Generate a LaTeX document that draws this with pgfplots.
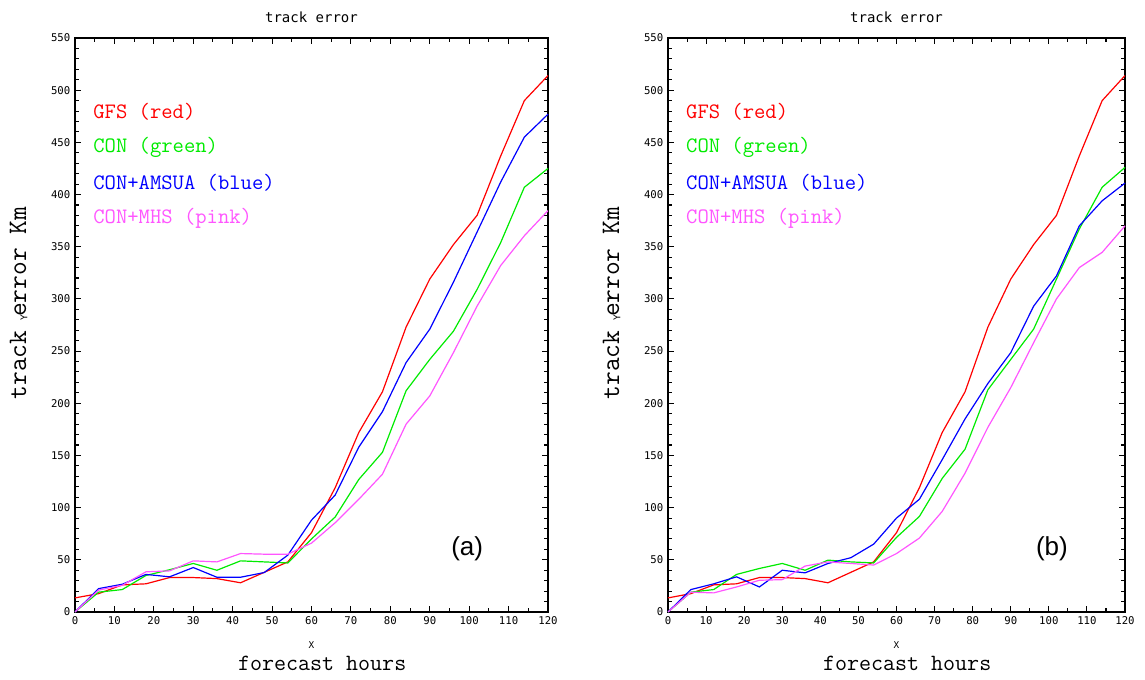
\documentclass[border=0pt]{standalone}
\usepackage{fontspec}
\usepackage{pgfplots}
\usepackage{pgfplotstable}
\pgfplotsset{compat=1.18}
\newfontfamily\tickfont{DejaVu Sans Mono}
\newfontfamily\arialfont{Liberation Sans}
\definecolor{gfsred}{RGB}{255,0,0}
\definecolor{congreen}{RGB}{0,235,0}
\definecolor{conblue}{RGB}{0,0,255}
\definecolor{conpink}{RGB}{255,85,255}

% hours, GFS, CON, CON+AMSUA, CON+MHS
\pgfplotstableread{
h   gfs   con   amsua  mhs
0   13.5  0     0      0
6   17.6  19    22.4   21
12  26    21.5  26.6   25.6
18  27    35    36     38.5
24  33    40.5  33.7   39.4
30  33    46.5  42.6   49
36  32    40    33.3   48
42  28    49    33.3   56
48  38    48    37.8   55.4
54  48    47    54.5   55.4
60  76    70    88     66
66  119   91    112    85.5
72  172   127   158    108
78  211   153   192    132
84  273   212   239    180
90  319   242   271    207
96  352   269   316    248.5
102 380   309   364    293
108 437   354   412    332
114 490   407   455    360.5
120 514   425   477    384.6
}\tablea

\pgfplotstableread{
h   gfs   con   amsua  mhs
0   13.5  0     0      0
6   17.6  19    21.5   19
12  26    21.5  27     18.3
18  27    36    33.7   24
24  33    41.7  24     30.4
30  33    46.5  40     31
36  32    40    37.5   44
42  28    49.7  46.5   48
48  38    48    52     46.5
54  48    47    65     45
60  76    71.5  90     56
66  119   91.5  108    70.8
72  172   128   146    96.4
78  211   156   185    133
84  273   213   219    177
90  319   242   248.5  215
96  352   271   293    258
102 380   319   322    300
108 437   367   370    330
114 490   407   394    344.6
120 514   426   411    370
}\tableb

\tikzset{
  legtext/.style={anchor=west, inner sep=0pt, font=\ttfamily\fontsize{16.5}{18}\selectfont},
}
\pgfplotsset{
  trackaxis/.style={
    scale only axis, height=430.5pt,
    xmin=0, xmax=120, ymin=0, ymax=550,
    xtick={0,10,...,120}, minor x tick num=1,
    ytick={0,50,...,550}, minor y tick num=4,
    tick align=inside,
    major tick length=4.5pt, minor tick length=3pt,
    every tick/.style={black, line width=0.8pt},
    axis line style={line width=0.9pt},
    tick label style={font=\tickfont\fontsize{8}{9}\selectfont},
    /pgf/number format/assume math mode=true,
    title={track error},
    title style={font=\tickfont\fontsize{10.5}{12}\selectfont, at={(axis description cs:0.5,1)}, anchor=center, yshift=9.5pt},
    xlabel={forecast hours},
    xlabel style={font=\ttfamily\fontsize{17.5}{20}\selectfont, at={(axis description cs:0.5,0)}, anchor=center, yshift=-38.25pt, xshift=8pt},
    ylabel={track error Km},
    every axis plot/.append style={line width=0.9pt, mark=none},
    clip=false,
  },
}

\begin{document}
\begin{tikzpicture}
\useasboundingbox (0,0) rectangle (858.75pt,510pt);

% ---------- panel (a) ----------
\begin{axis}[trackaxis, width=354.75pt, at={(56.25pt,51pt)}, anchor=south west,
  ylabel style={font=\ttfamily\fontsize{20}{22}\selectfont, at={(axis description cs:-0.1205,0.538)}, anchor=center}]
\addplot[gfsred]   table[x=h, y=gfs]   {\tablea};
\addplot[congreen] table[x=h, y=con]   {\tablea};
\addplot[conblue]  table[x=h, y=amsua] {\tablea};
\addplot[conpink]  table[x=h, y=mhs]   {\tablea};
\node[legtext, text=gfsred]   at (axis cs:4.6,479)   {GFS (red)};
\node[legtext, text=congreen] at (axis cs:4.6,445.6) {CON (green)};
\node[legtext, text=conblue]  at (axis cs:4.6,411)   {CON+AMSUA (blue)};
\node[legtext, text=conpink]  at (axis cs:4.6,377.5) {CON+MHS (pink)};
\node[font=\arialfont\fontsize{19.5}{22}\selectfont] at (axis cs:99.5,61) {(a)};
\node[font=\tickfont\fontsize{7}{8}\selectfont, yshift=-24.75pt] at (axis description cs:0.5,0) {X};
\node[font=\tickfont\fontsize{7}{8}\selectfont, rotate=90] at (axis description cs:-0.1078,0.512) {Y};
\end{axis}

% ---------- panel (b) ----------
\begin{axis}[trackaxis, width=342.75pt, at={(501pt,51pt)}, anchor=south west,
  ylabel style={font=\ttfamily\fontsize{20}{22}\selectfont, at={(axis description cs:-0.1247,0.538)}, anchor=center}]
\addplot[gfsred]   table[x=h, y=gfs]   {\tableb};
\addplot[congreen] table[x=h, y=con]   {\tableb};
\addplot[conblue]  table[x=h, y=amsua] {\tableb};
\addplot[conpink]  table[x=h, y=mhs]   {\tableb};
\node[legtext, text=gfsred]   at (axis cs:4.7,479)   {GFS (red)};
\node[legtext, text=congreen] at (axis cs:4.7,445.6) {CON (green)};
\node[legtext, text=conblue]  at (axis cs:4.7,411)   {CON+AMSUA (blue)};
\node[legtext, text=conpink]  at (axis cs:4.7,377.5) {CON+MHS (pink)};
\node[font=\arialfont\fontsize{19.5}{22}\selectfont] at (axis cs:100.8,61) {(b)};
\node[font=\tickfont\fontsize{7}{8}\selectfont, yshift=-24.75pt] at (axis description cs:0.5,0) {X};
\node[font=\tickfont\fontsize{7}{8}\selectfont, rotate=90] at (axis description cs:-0.1116,0.512) {Y};
\end{axis}
\end{tikzpicture}
\end{document}
